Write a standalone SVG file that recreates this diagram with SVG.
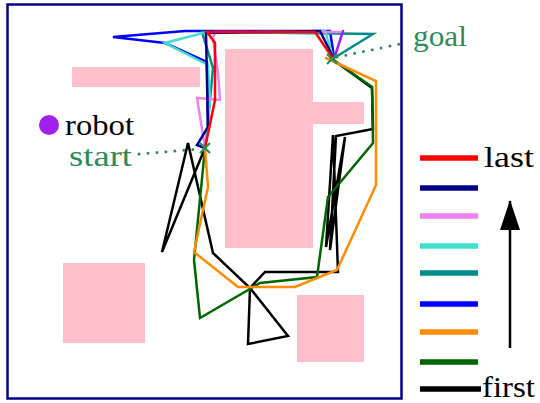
<svg xmlns="http://www.w3.org/2000/svg" width="540" height="403" viewBox="0 0 540 403">
<style>
.obs{fill:#ffc0cb}
.p{fill:none;stroke-width:2.5;stroke-linejoin:miter;stroke-linecap:round}
.lg{stroke-width:5.5}
.dot{fill:none;stroke:#2e8b57;stroke-width:3;stroke-linecap:round;stroke-dasharray:0 9}
.x{stroke:#2e8b57;stroke-width:2.2;fill:none}
</style>
<defs>
<marker id="ah" viewBox="0 0 30 20" refX="29" refY="10" markerWidth="30" markerHeight="20" markerUnits="userSpaceOnUse" orient="auto">
<path d="M0,0 L30,10 L0,20 z" fill="#000"/>
</marker>
</defs>
<rect width="540" height="403" fill="#fff"/>
<g id="obstacles">
<rect class="obs" x="72" y="67" width="128" height="20"/>
<rect class="obs" x="225" y="49" width="88" height="199"/>
<rect class="obs" x="312" y="102" width="52" height="22"/>
<rect class="obs" x="63" y="263" width="82" height="80"/>
<rect class="obs" x="297" y="295" width="67" height="67"/>
</g>
<g id="connectors">
<polyline class="p" stroke="#000" points="205,148 162,252 188,143 213,253 250,288 248,344 288,336 250,288 265,272 338,272 333,135 326,247 345,137 330,250 336,136 373,129 372,88 332,59"/>
<polyline class="p" stroke="#006400" points="205,148 194,260 200,318 260,283 317,277 328,197 373,143 372,87 332,59"/>
<polyline class="p" stroke="#ff8c00" points="205,148 208,187 194,252 238,287 295,287 337,270 376,185 376,81 326,58"/>
<polyline class="p" stroke="#0000ff" points="205,148 208,127 207,62 165,43 113,37 185,31 330,31 334,57"/>
<polyline class="p" stroke="#008b8b" points="205,148 210,100 213,68 202,32 373,34 334,58"/>
<polyline class="p" stroke="#40e0d0" points="205,148 210,100 208,65 165,43 203,33 325,31 333,57"/>
<polyline class="p" stroke="#ee82ee" points="205,148 197,98 220,100 218,73 213,38 215,32 340,32"/>
<polyline class="p" stroke="#a020f0" points="343,31 335,56"/>
<polyline class="p" stroke="#00008b" points="205,148 197,145 208,127 206,33 320,31 333,57"/>
<polyline class="p" stroke="#ff0000" points="205,148 215,100 215,43 207,32 315,32 332,57"/>
<line class="dot" x1="139" y1="154" x2="200" y2="149"/>
<line class="dot" x1="337" y1="57" x2="405" y2="43"/>
</g>
<g id="frame">
<rect x="7.5" y="4.5" width="394" height="394" fill="none" stroke="#00008b" stroke-width="2.5"/>
</g>
<g id="start-mark"><path class="x" d="M200,143 l10,10 M210,143 l-10,10"/></g>
<g id="goal-mark"><path class="x" d="M327,54 l10,10 M337,54 l-10,10"/></g>
<g font-family="'Liberation Serif', 'Times New Roman', serif" font-size="29">
<g id="robot">
<circle cx="49" cy="125" r="10" fill="#a020f0"/>
<text x="65" y="135" textLength="69" lengthAdjust="spacingAndGlyphs">robot</text>
</g>
<g id="start-label"><text x="69" y="166" fill="#2e8b57" textLength="63" lengthAdjust="spacingAndGlyphs">start</text></g>
<g id="goal-label"><text x="413" y="46" fill="#2e8b57" textLength="54" lengthAdjust="spacingAndGlyphs">goal</text></g>
<g id="legend">
<line class="lg" stroke="#ff0000" x1="420" y1="158" x2="478" y2="158"/>
<line class="lg" stroke="#00008b" x1="420" y1="188" x2="478" y2="188"/>
<line class="lg" stroke="#ee82ee" x1="420" y1="216" x2="478" y2="216"/>
<line class="lg" stroke="#40e0d0" x1="420" y1="246" x2="478" y2="246"/>
<line class="lg" stroke="#008b8b" x1="420" y1="273" x2="478" y2="273"/>
<line class="lg" stroke="#0000ff" x1="420" y1="304" x2="478" y2="304"/>
<line class="lg" stroke="#ff8c00" x1="420" y1="332" x2="478" y2="332"/>
<line class="lg" stroke="#006400" x1="420" y1="362" x2="478" y2="362"/>
<line class="lg" stroke="#000" x1="420" y1="389" x2="481" y2="389"/>
<text x="484" y="167" textLength="50" lengthAdjust="spacingAndGlyphs">last</text>
<text x="482" y="397" textLength="53" lengthAdjust="spacingAndGlyphs">first</text>
<line x1="510" y1="348" x2="510" y2="201" stroke="#000" stroke-width="2.5" marker-end="url(#ah)"/>
</g>
</g>
</svg>
